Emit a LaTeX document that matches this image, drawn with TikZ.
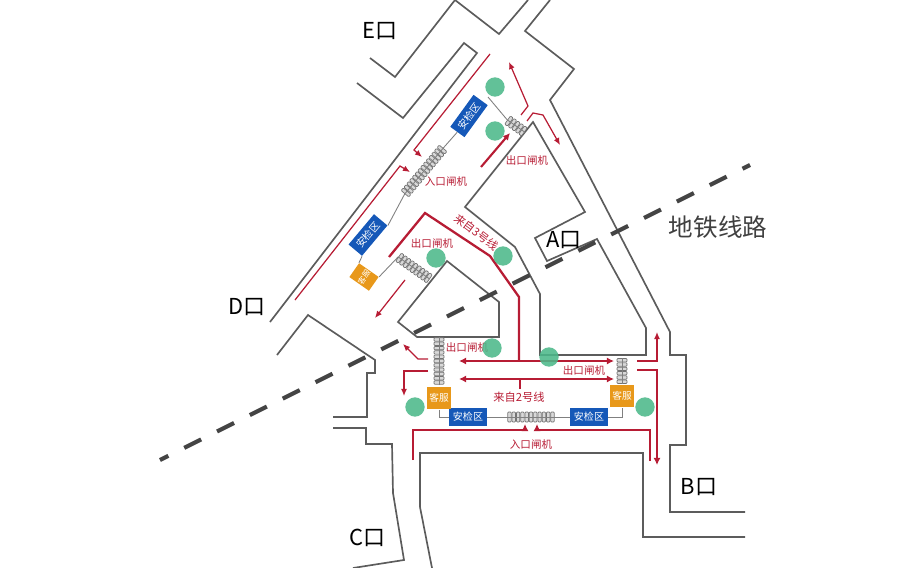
\documentclass[tikz,border=0pt]{standalone}
\usepackage{fontspec}
\usepackage{xcolor}
\setmainfont{Noto Sans CJK SC}
\usetikzlibrary{arrows.meta,positioning}
\definecolor{wallgrey}{HTML}{5C5C5C}
\definecolor{metrogrey}{HTML}{444444}
\definecolor{routered}{HTML}{B71C34}
\definecolor{safeblue}{HTML}{1558B8}
\definecolor{servorange}{HTML}{E8981A}
\definecolor{spotgreen}{HTML}{4CB88A}
\tikzset{
    wall/.style={draw=wallgrey, line width=0.95pt, line join=miter},
    metro/.style={draw=metrogrey, line width=2.4pt, dash pattern=on 10.8pt off 10.1pt},
    routethin/.style={draw=routered, line width=0.7pt, -{Latex[length=4pt,width=3.4pt]}},
    routethick/.style={draw=routered, line width=1.2pt, -{Latex[length=4pt,width=4pt]}},
    routeboth/.style={draw=routered, line width=1.2pt, {Latex[length=4pt,width=4pt]}-{Latex[length=4pt,width=4pt]}},
    routeplain/.style={draw=routered, line width=1.3pt},
    link/.style={draw=gray, line width=0.5pt},
    gatebar/.style={draw=gray!90!black, fill=gray!30, line width=0.4pt, rounded corners=0.5pt},
    safebox/.style={fill=safeblue, text=white, font=\fontsize{5.7pt}{6pt}\selectfont,
        inner sep=0pt, minimum height=10pt, align=center},
    servbox/.style={fill=servorange, text=white, font=\fontsize{5.5pt}{6pt}\selectfont,
        inner sep=0pt, align=center},
    spot/.style={circle, fill=spotgreen, opacity=0.88, minimum size=11pt, inner sep=0pt},
    doorlabel/.style={text=black, font=\fontsize{12.5pt}{14pt}\selectfont, inner sep=0pt},
    redlabel/.style={text=routered, font=\fontsize{6pt}{7pt}\selectfont, inner sep=0pt},
}
% #1 name, #2 centre, #3 angle, #4 number of bars
\newcommand{\gaterow}[4]{
    \begin{scope}[shift={(#2)}, rotate=#3]
        \coordinate (#1a) at ({-2.15*#4},0);
        \coordinate (#1b) at ({2.15*#4},0);
        \foreach \i in {1,...,#4} {
            \draw[gatebar] ({(\i-0.5*#4-0.5)*4.3-1.7},-5) rectangle ({(\i-0.5*#4-0.5)*4.3+1.7},5);
        }
        \draw[link] (#1a) -- (#1b);
    \end{scope}
}

\begin{document}
\begin{tikzpicture}[x=0.02cm, y=-0.02cm]
    \useasboundingbox (0,0) rectangle (900,568);

    % walls
    \draw[wall] (370,58) -- (395,77) -- (455,0) (528,0) -- (499,34) -- (455,0);
    \draw[wall] (550,0) -- (525,31) -- (574,69) -- (550,100) -- (670,332) -- (670,355)
        -- (686,355) -- (686,445) -- (670,445) -- (670,512) -- (745,512);
    \draw[wall] (357,83) -- (403,118) -- (464,43) -- (477,53) -- (270,322);
    \draw[wall] (540,355) -- (540,294) -- (515,247) -- (465,207) -- (533,122) -- (585,212)
        -- (535,238) -- (547,261) -- (597,239) -- (646,328) -- (646,355) -- cycle;
    \draw[wall] (447,261) -- (499,302) -- (499,337) -- (417,337) -- (398,322) -- cycle;
    \draw[wall] (277,355) -- (308,315) -- (375,360) -- (375,373) -- (367,373) -- (367,417) -- (333,417);
    \draw[wall] (333,428) -- (366,428) -- (366,444) -- (392,444) -- (393,493) -- (404,560) -- (353,568);
    \draw[wall] (432,568) -- (420,507) -- (420,453) -- (643,453) -- (643,537) -- (745,537);

    % subway line
    \coordinate (metroA) at (160,460);
    \coordinate (metroB) at (750,165);
    \draw[metro, dash phase=5.5pt] (metroA) -- (metroB);

    % gates
    \gaterow{gateE}{516,126}{-35}{5}
    \gaterow{gateF}{424,171}{50}{14}
    \gaterow{gateD}{414,268}{-35}{9}
    \gaterow{gateL}{439,361}{90}{11}
    \gaterow{gateR}{622,371}{90}{6}
    \gaterow{gateB}{531,417}{0}{11}

    % desks
    \node[safebox, minimum width=22.5pt, rotate=54] (safeE) at (469,116) {安检区};
    \node[safebox, minimum width=22.5pt, rotate=50] (safeD) at (368,235) {安检区};
    \node[safebox, minimum width=21.5pt] (safeL) at (468,417) {安检区};
    \node[safebox, minimum width=21.5pt] (safeR) at (589,417) {安检区};
    \node[servbox, font=\fontsize{4.4pt}{5pt}\selectfont, minimum width=9.6pt, minimum height=13.6pt, rotate=55] (servD) at (364,277) {客服};
    \node[servbox, minimum width=14pt, minimum height=13pt] (servL) at (439,398) {客服};
    \node[servbox, minimum width=14pt, minimum height=13pt] (servR) at (622,396) {客服};

    % links between desks and gates
    \coordinate (linkE) at (488,97);
    \draw[link] (linkE) -- (gateEa);
    \draw[link] (safeE.west) -- (gateFb);
    \draw[link] (gateFa) -- (safeD.south east);
    \draw[link] (safeD.south west) -- (servD.north east);
    \draw[link] (servD.south east) -- (gateDa);
    \draw[link] (servL.south) |- (safeL.west);
    \draw[link] (safeL.east) -- (gateBa);
    \draw[link] (gateBb) -- (safeR.west);
    \draw[link] (safeR.east) -| (servR.south);

    % routes at the top
    \draw[routethin] (490,54) -- (414,150) -- (422,157);
    \draw[routethin] (295,300) -- (400,166) -- (410,172);
    \draw[routethick] (481,167) -- (510,133);
    \draw[routethin] (521,115) -- (528,106) -- (509,62);
    \draw[routethin] (527,121) -- (533,113) -- (543,115) -- (560,145);
    \draw[routethin] (405,280) -- (375,318);

    % routes at the bottom
    \draw[routeplain] (389,257) -- (425,213) -- (490,256) -- (519,297) -- (519,360);
    \draw[routeboth] (459,361) -- (614,361);
    \draw[routeboth] (459,379) -- (614,379);
    \draw[routeplain] (520,379) -- (520,389);
    \draw[routethin] (428,359) -- (418,359) -- (403,344);
    \draw[routethin] (428,371) -- (404,371) -- (404,396);
    \draw[routethick] (413,460) -- (413,430) -- (525,430) -- (525,424);
    \draw[routethick] (650,461) -- (650,430) -- (537,430) -- (537,424);
    \draw[routethin] (637,361) -- (657,361) -- (657,332);
    \draw[routethick] (637,370) -- (657,370) -- (657,465);

    % labels
    \node[doorlabel] (doorE) at (380,31) {E口};
    \node[doorlabel] (doorA) at (564,240) {A口};
    \node[doorlabel] (doorD) at (247,307) {D口};
    \node[doorlabel] (doorC) at (367,538) {C口};
    \node[doorlabel] (doorB) at (699,487) {B口};
    \node[text=black!75, font=\fontsize{14pt}{16pt}\selectfont, inner sep=0pt] (metroname) at (718,227) {地铁线路};
    \node[redlabel] (exitE) at (527,160) {出口闸机};
    \node[redlabel] (exitD) at (432,243) {出口闸机};
    \node[redlabel] (exitL) at (467,347) {出口闸机};
    \node[redlabel] (exitR) at (584,370) {出口闸机};
    \node[redlabel] (entryD) at (446,181) {入口闸机};
    \node[redlabel] (entryB) at (531,444) {入口闸机};
    \node[redlabel, font=\fontsize{6.4pt}{7pt}\selectfont, rotate=-37] (fromthree) at (477,232) {来自3号线};
    \node[redlabel, font=\fontsize{6.4pt}{7pt}\selectfont] (fromtwo) at (519,397) {来自2号线};

    % waiting spots
    \foreach \name/\x/\y in {a/495/87, b/495/131, c/436/258, d/503/256, e/492/348, f/549/357, g/415/407, h/645/407} {
        \node[spot] (spot\name) at (\x,\y) {};
    }
\end{tikzpicture}
\end{document}
